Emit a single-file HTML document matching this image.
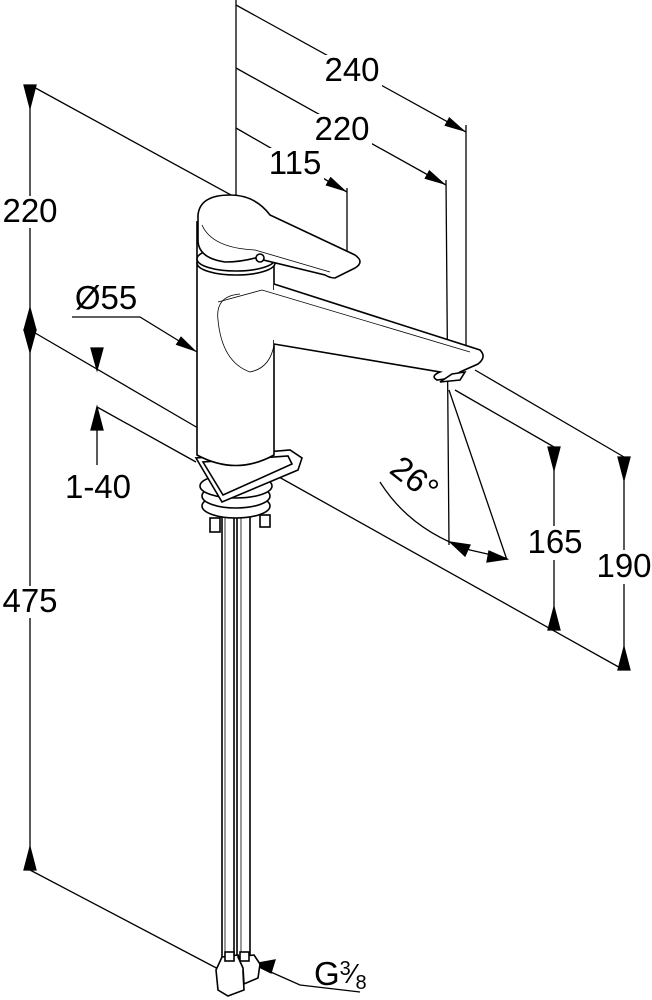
<!DOCTYPE html>
<html><head><meta charset="utf-8"><style>
html,body{margin:0;padding:0;background:#fff}
svg{display:block}
text{font-family:"Liberation Sans",Arial,sans-serif;font-size:33px;fill:#000}
</style></head><body>
<svg width="652" height="1000" viewBox="0 0 652 1000" xmlns="http://www.w3.org/2000/svg">
<defs>
<marker id="a" markerWidth="22" markerHeight="10" refX="22" refY="5" orient="auto" markerUnits="userSpaceOnUse"><path d="M0,0 L22,5 L0,10 Z" fill="#000"/></marker>
</defs>
<g stroke="#000" stroke-width="1.3" fill="none">
<!-- top dims -->
<line x1="236" y1="0" x2="236" y2="215"/>
<line x1="236" y1="5" x2="466" y2="132" marker-end="url(#a)"/>
<line x1="466" y1="125" x2="466" y2="352"/>
<line x1="236" y1="68" x2="446" y2="185" marker-end="url(#a)"/>
<line x1="446" y1="180" x2="449" y2="545"/>
<line x1="236" y1="128" x2="347" y2="192" marker-end="url(#a)"/>
<line x1="347" y1="188" x2="347" y2="265"/>
<!-- left dims -->
<line x1="30" y1="85" x2="30" y2="330"/>
<line x1="30" y1="330" x2="30" y2="870"/>
<path d="M24,85 L36,85 L30,108 Z M24,330 L36,330 L30,308 Z M24,330 L36,330 L30,352 Z M24,870 L36,870 L30,847 Z" fill="#000"/>
<line x1="30" y1="85" x2="262" y2="212"/>
<line x1="30" y1="330" x2="210" y2="435"/>
<line x1="30" y1="870" x2="224" y2="972"/>
<!-- 1-40 -->
<line x1="97" y1="348" x2="97" y2="370"/>
<line x1="97" y1="407" x2="97" y2="465"/>
<path d="M91,348 L103,348 L97,370 Z M91,430 L103,430 L97,407 Z" fill="#000"/>
<line x1="97" y1="407" x2="196" y2="462"/>
<!-- Ø55 -->
<path d="M72,317 L140,317 L197,352" marker-end="url(#a)"/>
<!-- right dims -->
<line x1="455" y1="390" x2="554" y2="447"/>
<line x1="475" y1="370" x2="624" y2="457"/>
<line x1="270" y1="472" x2="624" y2="670"/>
<line x1="554" y1="447" x2="554" y2="630"/>
<line x1="624" y1="457" x2="624" y2="670"/>
<path d="M548,447 L560,447 L554,470 Z M548,630 L560,630 L554,607 Z M618,457 L630,457 L624,480 Z M618,670 L630,670 L624,647 Z" fill="#000"/>
<!-- 26 deg -->
<line x1="449" y1="390" x2="507" y2="560"/>
<path d="M380,482 Q410,530 470,550 L505,558"/>
<path d="M450,542 L470,545 L465,556 Z M507,559 L487,562 L489,551 Z" fill="#000"/>
<!-- G3/8 leader -->
<path d="M360,992 L300,985 L255,965" />
<path d="M253,964 L275,960 L271,973 Z" fill="#000"/>
<!-- faucet -->
<g stroke-width="1.6" fill="#fff">
<!-- pipes -->
<rect x="222" y="515" width="12" height="445"/>
<rect x="237" y="515" width="13" height="445"/>
<line x1="225" y1="515" x2="225" y2="960" stroke-width="0.8"/>
<line x1="241" y1="515" x2="241" y2="960" stroke-width="0.8"/>
<!-- bottom nuts -->
<path d="M222,957 L238,955 L244,963 L243,972 L244,990 L228,996 L218,990 L216,970 Z"/>
<path d="M238,957 L254,955 L260,964 L258,978 L244,984 L243,968 Z"/>
<rect x="225" y="952" width="9" height="9"/>
<rect x="240" y="952" width="9" height="9"/>
<!-- base fittings -->
<rect x="210" y="518" width="10" height="14"/>
<rect x="260" y="515" width="10" height="12"/>
<ellipse cx="236" cy="506" rx="34" ry="12"/>
<ellipse cx="236" cy="496" rx="34" ry="12"/>
<ellipse cx="236" cy="486" rx="36" ry="12"/>
<!-- triangle -->
<path d="M196,458 L222,502 L298,470 L302,458 L290,450 Z"/>
<path d="M203,462 L223,495 L292,464 L288,456 Z"/>
<!-- body -->
<path d="M197,222 L197,455 Q236,476 274,455 L274,240 Z"/>
<!-- spout -->
<path d="M274,284 L480,350 Q487,357 478,364 L460,372 L452,378 L437,380 Q430,376 440,372 L274,344"/>
<path d="M440,382 L460,380 L465,372 L452,374 Z"/>
<line x1="274" y1="290" x2="274" y2="340" stroke="#fff" stroke-width="2"/>
<path d="M240,294 Q215,296 218,320 Q222,362 250,372 Q270,368 274,345" fill="none" stroke-width="0.8"/>
<path d="M218,302 L262,290 L470,352" fill="none" stroke-width="0.8"/>
<!-- rings -->
<ellipse cx="236" cy="263" rx="39" ry="12"/>
<ellipse cx="236" cy="259" rx="39" ry="12"/>
<!-- handle -->
<path d="M198,215 Q200,195 230,195 Q255,195 270,215 L355,255 Q365,262 355,268 L335,278 Q330,278 325,275 L255,258 Q240,262 225,262 Q198,258 198,240 Z"/>
<path d="M202,225 Q212,248 255,250 L330,272" fill="none" stroke-width="0.8"/>
<circle cx="260" cy="258" r="4"/>
</g>
</g>
<!-- label backgrounds -->
<g fill="#fff">
<rect x="322" y="55" width="60" height="32"/>
<rect x="312" y="114" width="60" height="32"/>
<rect x="268" y="148" width="56" height="32"/>
<rect x="0" y="196" width="62" height="32"/>
<rect x="0" y="586" width="62" height="32"/>
<rect x="525" y="526" width="60" height="34"/>
<rect x="595" y="550" width="57" height="34"/>
</g>
<!-- labels -->
<text x="352" y="81" text-anchor="middle">240</text>
<text x="342" y="140" text-anchor="middle">220</text>
<text x="295" y="174" text-anchor="middle">115</text>
<text x="30" y="222" text-anchor="middle">220</text>
<text x="106" y="309" text-anchor="middle">Ø55</text>
<text x="98" y="498" text-anchor="middle">1-40</text>
<text x="30" y="612" text-anchor="middle">475</text>
<text x="555" y="553" text-anchor="middle">165</text>
<text x="624" y="577" text-anchor="middle">190</text>
<text x="0" y="0" transform="translate(388,472) rotate(38)">26°</text>
<text x="314" y="985">G<tspan font-size="20" dy="-10">3</tspan><tspan font-size="28" dy="8">⁄</tspan><tspan font-size="20" dy="6">8</tspan></text>
</svg>
</body></html>
